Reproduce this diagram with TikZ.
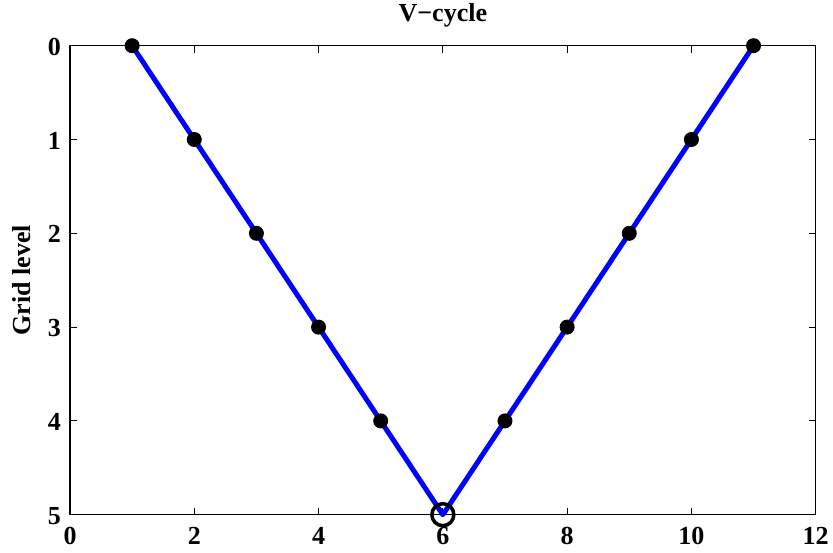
\documentclass[tikz,border=0pt]{standalone}
\usepackage{fontspec}
\setmainfont{Liberation Serif}
\begin{document}
\begin{tikzpicture}[
  lbl/.style={font=\bfseries\fontsize{26}{26}\selectfont, inner sep=0pt},
  axisline/.style={line width=1.5pt, black},
  vline/.style={line width=5pt, blue, line join=round},
  dot/.style={circle, fill=black, draw=none, minimum size=15pt, inner sep=0pt},
  odot/.style={circle, draw=black, line width=3.5pt, fill=none, minimum size=22pt, inner sep=0pt},
]
\useasboundingbox (0pt,0pt) rectangle (833pt,-552pt);
\begin{scope}[shift={(70pt,-45.7pt)}, x=62.14pt, y=-93.8pt]
  % axes box
  \draw[axisline] (0,0) rectangle (12,5);
  % ticks
  \foreach \i in {0,2,...,12} {
    \draw[line width=1pt] (\i,5) -- ++(0,7pt);
    \draw[line width=1pt] (\i,0) -- ++(0,-7pt);
    \node[lbl, anchor=north] (xl\i) at ([yshift=-12pt]\i,5) {\i};
  }
  \foreach \j in {0,...,5} {
    \draw[line width=1pt] (0,\j) -- ++(7pt,0);
    \draw[line width=1pt] (12,\j) -- ++(-7pt,0);
    \node[lbl, anchor=east] (yl\j) at ([xshift=-9pt, yshift=-1pt]0,\j) {\j};
  }
  % data
  \coordinate (p1) at (1,0);
  \coordinate (p2) at (2,1);
  \coordinate (p3) at (3,2);
  \coordinate (p4) at (4,3);
  \coordinate (p5) at (5,4);
  \coordinate (p6) at (6,5);
  \coordinate (p7) at (7,4);
  \coordinate (p8) at (8,3);
  \coordinate (p9) at (9,2);
  \coordinate (p10) at (10,1);
  \coordinate (p11) at (11,0);
  \draw[vline] (p1) -- (p2) -- (p3) -- (p4) -- (p5) -- (p6) -- (p7) -- (p8) -- (p9) -- (p10) -- (p11);
  \foreach \k in {1,2,3,4,5,7,8,9,10,11} {
    \node[dot] (d\k) at (p\k) {};
  }
  \node[odot] (d6) at (p6) {};
  % title and label
  \node[lbl] (title) at ([yshift=30pt]6,0) {V\char"2212 cycle};
  \node[lbl, rotate=90] (ylab) at ([xshift=-48pt]0,2.5) {Grid level};
\end{scope}
\end{tikzpicture}
\end{document}
